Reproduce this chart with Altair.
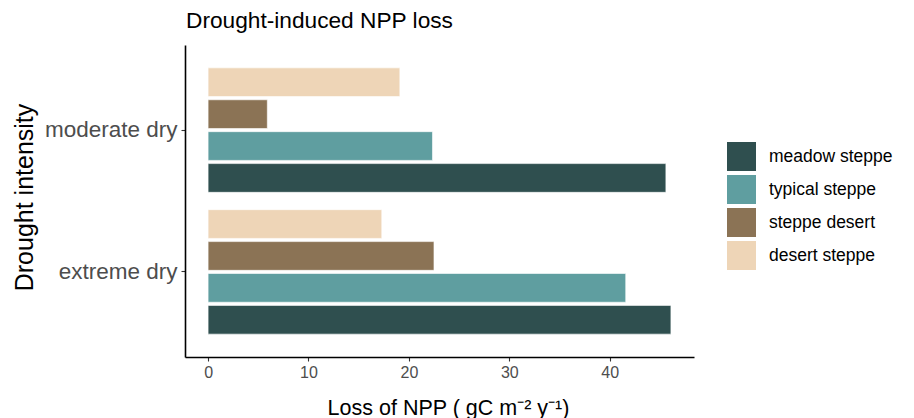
import altair as alt
import pandas as pd

drought_levels = ["moderate dry", "extreme dry"]
grassland_types = ["meadow steppe", "typical steppe", "steppe desert", "desert steppe"]
type_colors = ["#2F4F4F", "#5F9EA0", "#8B7355", "#EED5B7"]
loss_moderate = [45.6, 22.35, 5.9, 19.1]
loss_extreme = [46.1, 41.6, 22.5, 17.3]
x_ticks = [0, 10, 20, 30, 40]

rows = []
for lvl, vals in zip(drought_levels, [loss_moderate, loss_extreme]):
    for t, v in zip(grassland_types, vals):
        rows.append({"intensity": lvl, "type": t, "loss": v})
df = pd.DataFrame(rows)

FONT = "Liberation Sans"

chart = alt.Chart(df).mark_bar(stroke="white", strokeWidth=0.6).encode(
    x=alt.X(
        "loss:Q",
        scale=alt.Scale(domain=[-2.3, 48.4], nice=False, zero=False),
        axis=alt.Axis(
            values=x_ticks,
            title="Loss of NPP ( gC m⁻² y⁻¹)",
            grid=False,
            domainColor="black",
            domainWidth=1.6,
            tickColor="#333333",
            tickSize=4,
            tickWidth=1.1,
            labelColor="#4D4D4D",
            labelFontSize=16,
            labelFont=FONT,
            labelPadding=3,
            titleFont=FONT,
            titleFontSize=21.5,
            titleFontWeight="normal",
            titleColor="black",
            titleX=263,
            titleY=57,
            titleBaseline="alphabetic",
            titleAlign="center",
        ),
    ),
    y=alt.Y(
        "intensity:N",
        sort=drought_levels,
        scale=alt.Scale(paddingInner=0.1, paddingOuter=0.15),
        axis=alt.Axis(
            title="Drought intensity",
            grid=False,
            domainColor="black",
            domainWidth=1.6,
            tickColor="#333333",
            tickSize=4,
            tickWidth=1.1,
            labelColor="#4D4D4D",
            labelFontSize=22.5,
            labelFont=FONT,
            labelPadding=4,
            titleFont=FONT,
            titleFontSize=25,
            titleFontWeight="normal",
            titleColor="black",
            titleAngle=270,
            titleX=-153,
            titleY=152,
            titleBaseline="alphabetic",
            titleAlign="center",
        ),
    ),
    yOffset=alt.YOffset(
        "type:N",
        sort=list(reversed(grassland_types)),
        scale=alt.Scale(paddingInner=0.1, paddingOuter=0.05),
    ),
    color=alt.Color(
        "type:N",
        scale=alt.Scale(domain=grassland_types, range=type_colors),
        legend=alt.Legend(
            title=None,
            orient="none",
            legendX=542,
            legendY=97,
            padding=0,
            symbolType="square",
            symbolSize=841,
            symbolStrokeWidth=0,
            symbolOpacity=1,
            rowPadding=4,
            labelOffset=13,
            labelFont=FONT,
            labelFontSize=17.5,
            labelColor="black",
            labelLimit=300,
        ),
    ),
).properties(
    width=509,
    height=312,
    title=alt.TitleParams(
        "Drought-induced NPP loss",
        anchor="start",
        frame="group",
        font=FONT,
        fontSize=22.7,
        fontWeight="normal",
        color="black",
        baseline="alphabetic",
        offset=14,
        dy=20,
        dx=1,
    ),
    autosize=alt.AutoSizeParams(type="none"),
    padding={"left": 185, "top": 45, "right": 220, "bottom": 61},
    background="white",
).configure_view(stroke=None)

chart.save("out.html", embed_options={"renderer": "svg", "actions": False})
